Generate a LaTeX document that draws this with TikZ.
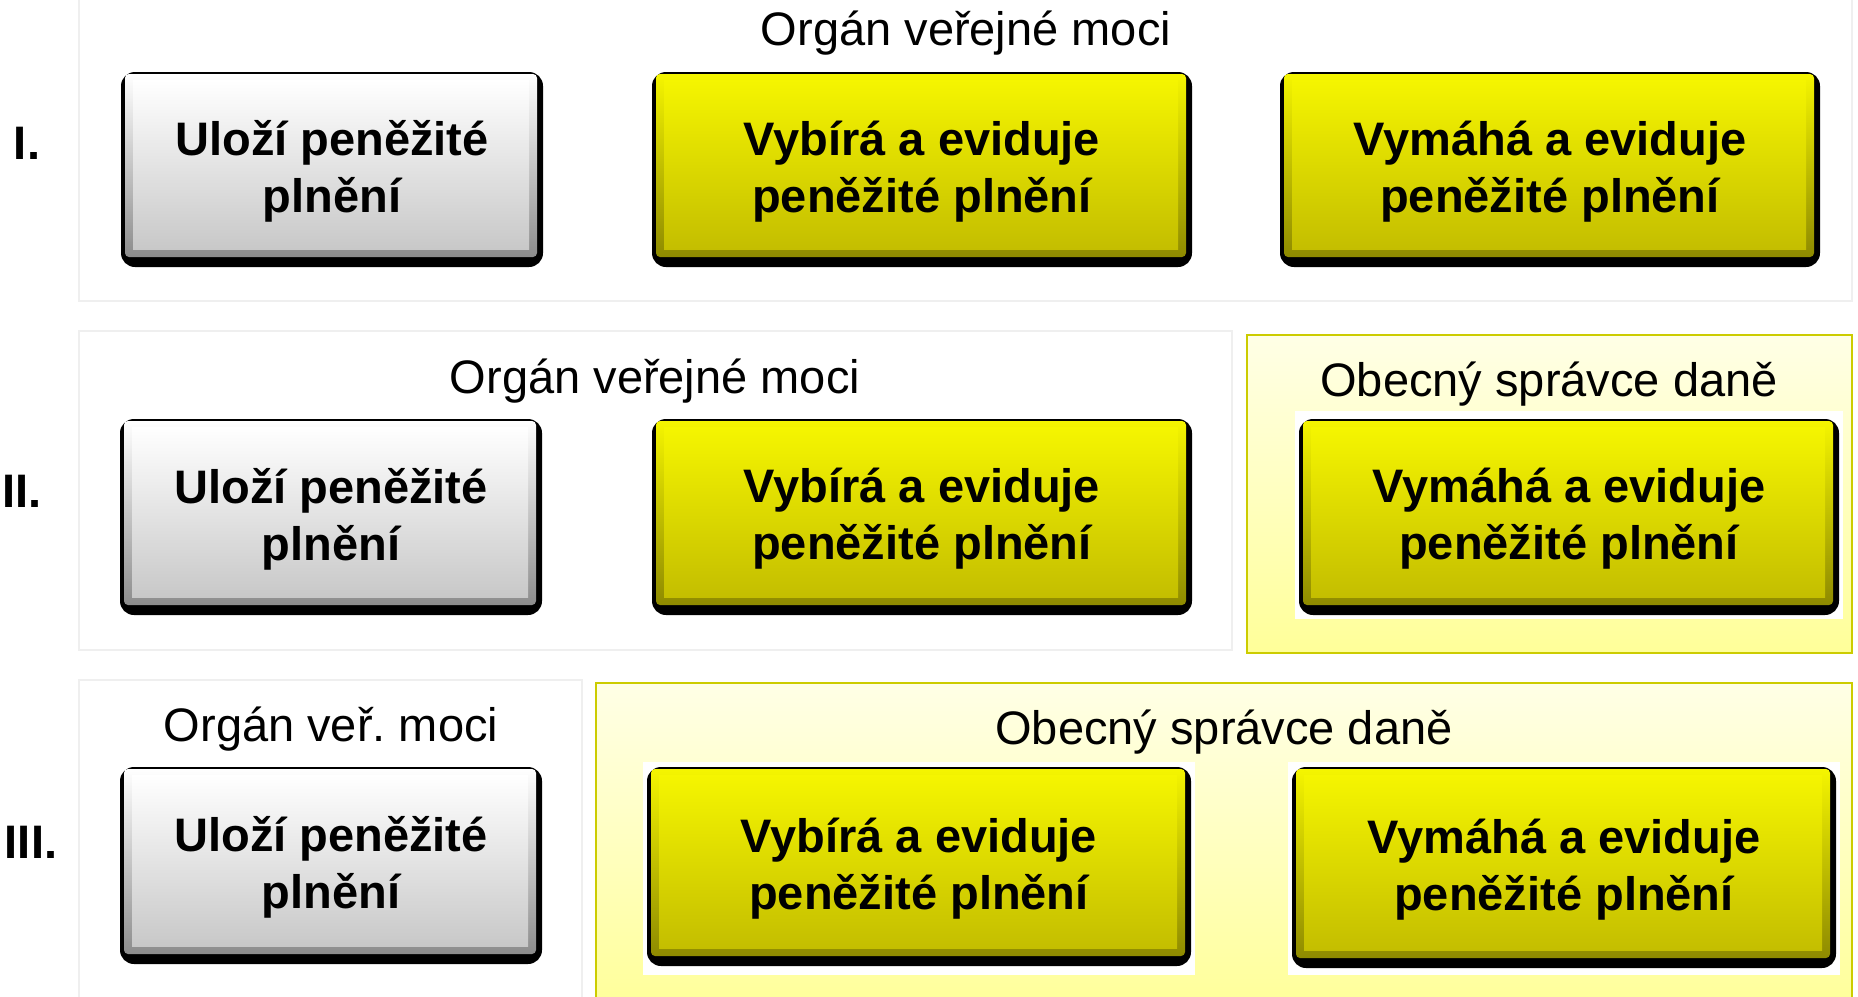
\documentclass[tikz,border=0pt]{standalone}
\usepackage{fontspec}
\setmainfont{Liberation Sans}
\usetikzlibrary{calc}

\definecolor{grayhi}{HTML}{FFFFFF}
\definecolor{graylo}{HTML}{C8C8C8}
\definecolor{graybev}{HTML}{8C8C8C}
\definecolor{yelhi}{HTML}{F5F500}
\definecolor{yello}{HTML}{C4BE00}
\definecolor{yelbev}{HTML}{8E8A00}
\definecolor{grpline}{HTML}{EFEFEF}
\definecolor{sprline}{HTML}{CCCC00}
\definecolor{sprhi}{HTML}{FFFFE6}
\definecolor{sprlo}{HTML}{FFFF99}

\begin{document}
\frenchspacing
\begin{tikzpicture} [x=0.5pt,y=-0.5pt,
  grp/.style={draw=grpline,line width=1.2pt,fill=white},
  spr/.style={draw=sprline,line width=1.2pt,top color=sprhi,bottom color=sprlo},
  boxtxt/.style={font=\bfseries\fontsize{23.5}{28.5}\selectfont,align=center},
  ttl/.style={font=\fontsize{23.5}{28}\selectfont},
  rowlbl/.style={font=\bfseries\fontsize{23.5}{28}\selectfont}]

\useasboundingbox (0,0) rectangle (1858,996);

% group frames
\draw[grp] (79,-10) rectangle (1852,301);
\draw[grp] (79,331) rectangle (1232,650);
\draw[spr] (1247,335) rectangle (1852,653);
\draw[grp] (79,680) rectangle (582,1010);
\draw[spr] (596,683) rectangle (1852,1010);

% white backing under the boxes in the yellow frames
\fill[white] (1295,411) rectangle (1843,619);
\fill[white] (643,762) rectangle (1195,975);
\fill[white] (1288,762) rectangle (1840,975);

% titles
\node[ttl] (t1) at (966,33) {Orgán veřejné moci};
\node[ttl] (t2a) at (655,381) {Orgán veřejné moci};
\node[ttl] (t2b) at (1549,384) {Obecný správce daně};
\node[ttl] (t3a) at (331,729) {Orgán veř. moci};
\node[ttl] (t3b) at (1224,732) {Obecný správce daně};

% row labels
\node[rowlbl] (r1) at (27,143) {I.};
\node[rowlbl] (r2) at (22,491) {II.};
\node[rowlbl] (r3) at (31,842) {III.};

% boxes
\foreach \nm/\xa/\ya/\xb/\yb/\col/\txt in {
  u1/121/72/543/267/gray/{Uloží peněžité\\plnění},
  v1/652/72/1192/267/yel/{Vybírá a eviduje\\peněžité plnění},
  m1/1280/72/1820/267/yel/{Vymáhá a eviduje\\peněžité plnění},
  u2/120/419/542/615/gray/{Uloží peněžité\\plnění},
  v2/652/419/1192/615/yel/{Vybírá a eviduje\\peněžité plnění},
  m2/1299/419/1839/615/yel/{Vymáhá a eviduje\\peněžité plnění},
  u3/120/767/542/964/gray/{Uloží peněžité\\plnění},
  v3/647/767/1191/966/yel/{Vybírá a eviduje\\peněžité plnění},
  m3/1292/767/1836/968/yel/{Vymáhá a eviduje\\peněžité plnění}} {
  \fill[black,rounded corners=7] (\xa,\ya) rectangle (\xb,\yb);
  \shade[top color=\col hi,bottom color=\col bev,rounded corners=2]
    (\xa+4,\ya+2) rectangle (\xb-6,\yb-10);
  \shade[top color=\col hi,bottom color=\col lo]
    (\xa+12,\ya+8) rectangle (\xb-14,\yb-18);
  \node[boxtxt] (\nm) at ({(\xa+\xb)/2},{(\ya+\yb)/2+2}) {\txt};
}
\end{tikzpicture}
\end{document}
